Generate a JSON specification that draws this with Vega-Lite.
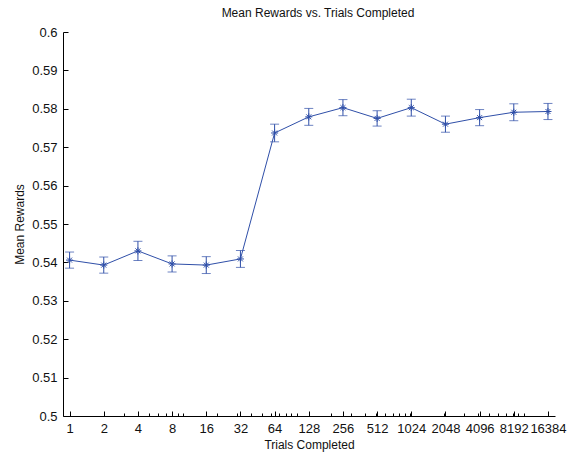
{
  "$schema": "https://vega.github.io/schema/vega-lite/v6.json",
  "autosize": "none",
  "padding": {"left": 63, "top": 32, "right": 20, "bottom": 36},
  "width": 492,
  "height": 384,
  "background": "white",
  "title": {"text": "Mean Rewards vs. Trials Completed", "font": "Liberation Sans", "fontSize": 12, "fontWeight": "normal", "color": "#111", "offset": 6, "dx": 9},
  "config": {
    "view": {"stroke": null},
    "axis": {"font": "Liberation Sans", "labelFont": "Liberation Sans", "titleFont": "Liberation Sans", "labelFontSize": 13, "titleFontSize": 12, "titleFontWeight": "normal", "labelColor": "#111", "titleColor": "#111", "domainColor": "#000", "tickColor": "#000", "grid": false},
    "axisY": {"values": [0.5, 0.51, 0.52, 0.53, 0.54, 0.55, 0.56, 0.57, 0.58, 0.59, 0.6], "format": "~g", "tickSize": -5, "labelPadding": 11, "labelOverlap": false, "titlePadding": 5}
  },
  "data": {"values": [
    {"trials": 1, "mean": 0.5406, "lo": 0.5385, "hi": 0.5427},
    {"trials": 2, "mean": 0.5393, "lo": 0.5372, "hi": 0.5414},
    {"trials": 4, "mean": 0.5430, "lo": 0.5405, "hi": 0.5455},
    {"trials": 8, "mean": 0.5396, "lo": 0.5375, "hi": 0.5417},
    {"trials": 16, "mean": 0.5393, "lo": 0.5371, "hi": 0.5415},
    {"trials": 32, "mean": 0.5409, "lo": 0.5387, "hi": 0.5431},
    {"trials": 64, "mean": 0.5737, "lo": 0.5714, "hi": 0.5760},
    {"trials": 128, "mean": 0.5779, "lo": 0.5757, "hi": 0.5801},
    {"trials": 256, "mean": 0.5803, "lo": 0.5782, "hi": 0.5824},
    {"trials": 512, "mean": 0.5775, "lo": 0.5755, "hi": 0.5795},
    {"trials": 1024, "mean": 0.5803, "lo": 0.5781, "hi": 0.5825},
    {"trials": 2048, "mean": 0.5760, "lo": 0.5739, "hi": 0.5781},
    {"trials": 4096, "mean": 0.5777, "lo": 0.5756, "hi": 0.5798},
    {"trials": 8192, "mean": 0.5791, "lo": 0.5769, "hi": 0.5813},
    {"trials": 16384, "mean": 0.5793, "lo": 0.5772, "hi": 0.5814}
  ]},
  "layer": [
    {
      "layer": [
        {
          "mark": {"type": "line", "color": "#2f4fa8", "strokeWidth": 1},
          "encoding": {
            "x": {"field": "trials", "type": "quantitative", "scale": {"type": "log", "base": 2, "domain": [0.875, 18900], "nice": false},
              "axis": {"values": [1, 2, 4, 8, 16, 32, 64, 128, 256, 512, 1024, 2048, 4096, 8192, 16384], "format": "d", "tickSize": -5, "labelPadding": 11, "title": "Trials Completed", "titlePadding": 4, "labelFlush": false, "labelOverlap": false}},
            "y": {"field": "mean", "type": "quantitative", "title": "Mean Rewards", "scale": {"domain": [0.5, 0.6], "nice": false, "zero": false},
              "axis": {"values": [0.5, 0.51, 0.52, 0.53, 0.54, 0.55, 0.56, 0.57, 0.58, 0.59, 0.6], "labelOverlap": false, "title": "Mean Rewards"}}
          }
        },
        {
          "mark": {"type": "errorbar", "color": "#2f4fa8", "thickness": 1, "ticks": {"size": 9, "thickness": 1}},
          "encoding": {
            "x": {"field": "trials", "type": "quantitative"},
            "y": {"field": "lo", "type": "quantitative", "title": "Mean Rewards", "axis": {"values": [0.5, 0.51, 0.52, 0.53, 0.54, 0.55, 0.56, 0.57, 0.58, 0.59, 0.6], "labelOverlap": false, "title": "Mean Rewards"}},
            "y2": {"field": "hi"}
          }
        },
        {
          "mark": {"type": "point", "shape": "M-1,0L1,0M0,-1L0,1M-0.7,-0.7L0.7,0.7M-0.7,0.7L0.7,-0.7", "filled": false, "color": "#2f4fa8", "size": 50, "strokeWidth": 1, "opacity": 1},
          "encoding": {
            "x": {"field": "trials", "type": "quantitative"},
            "y": {"field": "mean", "type": "quantitative", "title": "Mean Rewards", "axis": {"values": [0.5, 0.51, 0.52, 0.53, 0.54, 0.55, 0.56, 0.57, 0.58, 0.59, 0.6], "labelOverlap": false, "title": "Mean Rewards"}}
          }
        }
      ]
    },
    {
      "mark": {"type": "point", "opacity": 0},
      "encoding": {
        "x": {"field": "trials", "type": "quantitative",
          "axis": {"orient": "bottom", "values": [2, 3, 4, 5, 6, 7, 8, 9, 10, 20, 30, 40, 50, 60, 70, 80, 90, 100, 200, 300, 400, 500, 600, 700, 800, 900, 1000, 2000, 3000, 4000, 5000, 6000, 7000, 8000, 9000, 10000], "labels": false, "domain": false, "tickSize": -3, "title": null}},
        "y": {"field": "mean", "type": "quantitative", "title": "Mean Rewards", "axis": {"values": [0.5, 0.51, 0.52, 0.53, 0.54, 0.55, 0.56, 0.57, 0.58, 0.59, 0.6], "labelOverlap": false, "title": "Mean Rewards"}}
      }
    }
  ],
  "resolve": {"axis": {"x": "independent"}}
}
